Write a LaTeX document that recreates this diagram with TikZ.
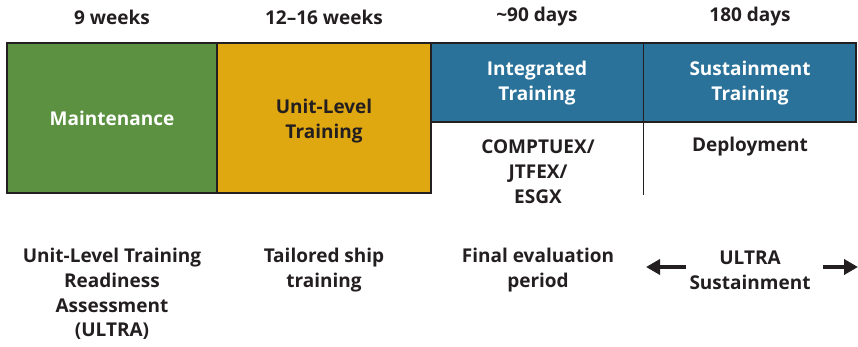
\documentclass[tikz,border=0pt]{standalone}
\usepackage{fontspec}
\setmainfont{Open Sans}[UprightFont=* Bold]
\usetikzlibrary{arrows.meta}
\definecolor{mgreen}{HTML}{5B9141}
\definecolor{myellow}{HTML}{DFA710}
\definecolor{mblue}{HTML}{2A7299}
\definecolor{mtext}{HTML}{231F20}
\begin{document}
\begin{tikzpicture}[x=1pt,y=-1pt,
  txt/.style={font=\fontsize{19}{24.8}\selectfont, text=mtext, align=center, inner sep=0pt},
  wtxt/.style={txt, text=white},
  arr/.style={line width=3.5pt, -{Triangle[length=14pt,width=15pt]}, draw=mtext}]
\useasboundingbox (0,0) rectangle (858,347);
% headers
\node[txt] (h1) at (112,17) {9 weeks};
\node[txt] (h2) at (324,17) {12–16 weeks};
\node[txt] (h3) at (537,17) {\char"7E 90 days};
\node[txt] (h4) at (750,17) {180 days};
% boxes
\path[fill=mgreen, draw=mtext, line width=1.2pt] (7,43) rectangle (217,193);
\path[fill=myellow, draw=mtext, line width=1.2pt] (217,43) rectangle (431,193);
\path[fill=mblue, draw=mtext, line width=1.2pt] (431,43) rectangle (856,122);
\draw[mtext, line width=1pt] (643,43) -- (643,195);
% box labels
\node[wtxt] (maint) at (112,118) {Maintenance};
\node[txt] (ult) at (324,121) {Unit-Level\\Training};
\node[wtxt] (integ) at (537,83) {Integrated\\Training};
\node[wtxt] (sust) at (750,83) {Sustainment\\Training};
\node[txt] (comp) at (538,172) {COMPTUEX/\\JTFEX/\\ESGX};
\node[txt] (depl) at (750,147) {Deployment};
% bottom
\node[txt] (b1) at (112,294) {Unit-Level Training\\Readiness\\Assessment\\(ULTRA)};
\node[txt] (b2) at (324,270) {Tailored ship\\training};
\node[txt] (b3) at (538,270) {Final evaluation\\period};
\node[txt] (b4) at (750,270) {ULTRA\\Sustainment};
\coordinate (lt) at (686,267);
\coordinate (la) at (646,267);
\coordinate (rt) at (823,267);
\coordinate (ra) at (858,267);
\draw[arr] (lt) -- (la);
\draw[arr] (rt) -- (ra);
\end{tikzpicture}
\end{document}
